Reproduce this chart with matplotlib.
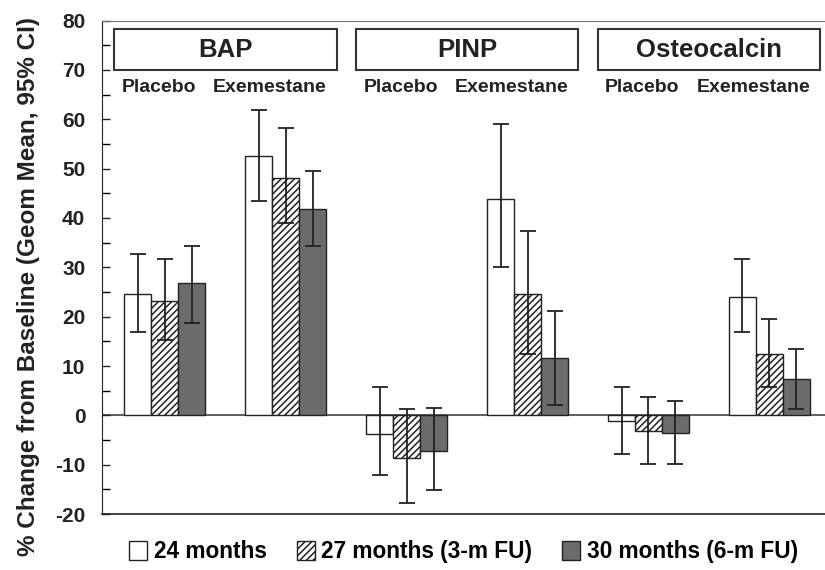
import numpy as np
import matplotlib
matplotlib.use("Agg")
import matplotlib.pyplot as plt
from matplotlib.patches import Patch, Rectangle

plt.rcParams["font.family"] = ["Liberation Sans", "DejaVu Sans"]
plt.rcParams["font.weight"] = "bold"
plt.rcParams["hatch.linewidth"] = 1.1
plt.rcParams["axes.unicode_minus"] = False

# markers and arms
markers = ["BAP", "PINP", "Osteocalcin"]
arms = ["Placebo", "Exemestane"]
series = ["24 months", "27 months (3-m FU)", "30 months (6-m FU)"]

# geometric mean % change, one value per group (marker x arm), per time point
m24 = [24.6, 52.5, -3.8, 43.9, -1.2, 24.0]
m27 = [23.2, 48.1, -8.7, 24.6, -3.2, 12.5]
m30 = [26.9, 41.8, -7.3, 11.7, -3.6, 7.3]

# 95% CI bounds
lo24 = [16.8, 43.4, -12.0, 30.0, -7.9, 17.0]
hi24 = [32.7, 61.8, 5.7, 59.0, 5.7, 31.7]
lo27 = [15.2, 39.0, -17.8, 12.5, -9.9, 5.7]
hi27 = [31.7, 58.2, 1.2, 37.4, 3.7, 19.6]
lo30 = [18.8, 34.3, -15.2, 2.2, -9.9, 1.2]
hi30 = [34.3, 49.5, 1.6, 21.2, 3.0, 13.5]

means = [m24, m27, m30]
lows = [lo24, lo27, lo30]
highs = [hi24, hi27, hi30]

face = ["white", "white", "#6b6b6b"]
hatches = [None, "/////", None]
ink = "#222222"

fig = plt.figure(figsize=(8.25, 5.7), dpi=100)
ax = fig.add_axes([0.1236, 0.098, 0.8764, 0.866])

x = np.arange(6)
w = 0.223
for i in range(3):
    pos = x + (i - 1) * w
    m = np.array(means[i])
    err = np.array([m - np.array(lows[i]), np.array(highs[i]) - m])
    ax.bar(pos, m, width=w, color=face[i], edgecolor=ink,
           hatch=hatches[i], linewidth=1.0, zorder=2)
    ax.errorbar(pos, m, yerr=err, fmt="none", ecolor=ink,
                elinewidth=1.3, capsize=5.5, capthick=1.3, zorder=3)

ax.axhline(0, color="#444444", linewidth=1.2, zorder=1)

ax.set_ylim(-20, 80)
ax.set_xlim(-0.52, 5.46)
ax.set_yticks(np.arange(-20, 81, 10))
ax.set_yticks(np.arange(-15, 80, 10), minor=True)
ax.tick_params(axis="y", which="major", labelsize=15, length=6, width=1,
               direction="in", pad=12, colors=ink)
ax.tick_params(axis="y", which="minor", length=6, width=1, direction="in")
ax.set_xticks([])
for lab in ax.get_yticklabels():
    lab.set_fontweight("bold")

ax.spines["right"].set_visible(False)
ax.spines["top"].set_color("#777777")
ax.spines["left"].set_color(ink)
ax.spines["bottom"].set_color(ink)
ax.spines["bottom"].set_linewidth(1.2)

ax.set_ylabel("% Change from Baseline (Geom Mean, 95% CI)", fontsize=17.5,
              fontweight="bold", color=ink)
ax.yaxis.set_label_coords(-0.086, 0.462)

# header boxes and arm labels
arm_shift = [-0.05, -0.13]
for k, name in enumerate(markers):
    c = 2 * k + 0.5
    ax.add_patch(Rectangle((c - 0.92, 70.0), 1.84, 8.3, fill=False,
                           edgecolor="#333333", linewidth=1.5, zorder=4))
    ax.text(c, 74.0, name, ha="center", va="center", fontsize=18.5,
            fontweight="bold", color=ink)
    for j, arm in enumerate(arms):
        ax.text(2 * k + j + arm_shift[j], 66.4, arm, ha="center", va="center",
                fontsize=14, fontweight="bold", color=ink)

handles = [Patch(facecolor=face[i], edgecolor=ink, hatch=hatches[i])
           for i in range(3)]
fig.legend(handles, series, loc="center", bbox_to_anchor=(0.562, 0.032),
           ncol=3, frameon=False, handlelength=0.8,
           handleheight=0.9, handletextpad=0.3, columnspacing=1.3,
           prop={"weight": "bold", "size": 16.3})

fig.savefig("out.png", dpi=100)
